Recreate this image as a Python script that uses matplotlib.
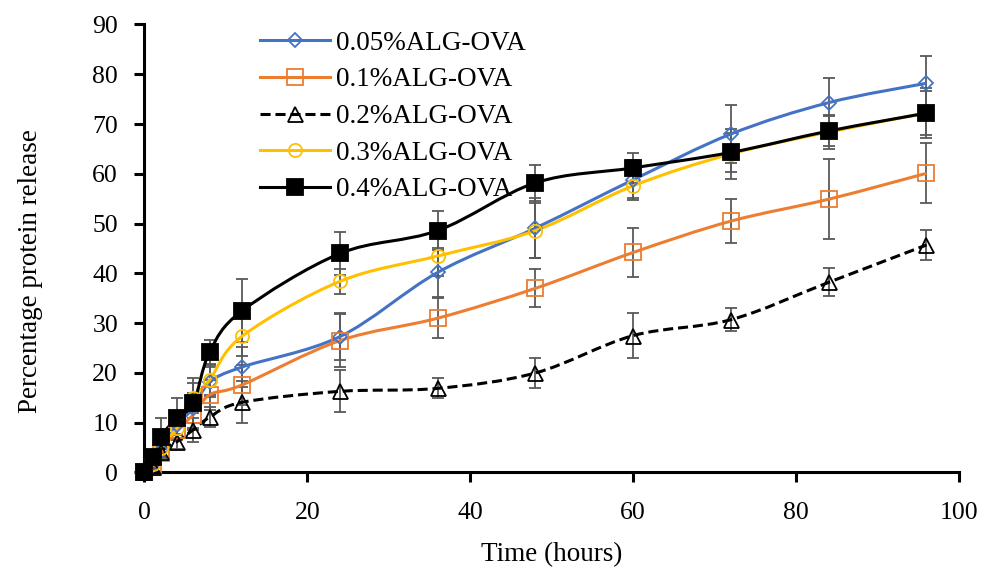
import numpy as np
import matplotlib
matplotlib.use("Agg")
import matplotlib.pyplot as plt
from matplotlib.path import Path
from matplotlib.patches import PathPatch
from matplotlib.lines import Line2D

# release time points (hours)
hours = [0, 1, 2, 4, 6, 8, 12, 24, 36, 48, 60, 72, 84, 96]

labels = ["0.05%ALG-OVA", "0.1%ALG-OVA", "0.2%ALG-OVA", "0.3%ALG-OVA", "0.4%ALG-OVA"]

alg005 = [0, 1.5, 4.5, 9.5, 13.0, 18.1, 21.2, 27.3, 40.2, 49.1, 58.8, 68.0, 74.3, 78.2]
alg01 = [0, 1.2, 4.0, 8.6, 11.6, 15.6, 17.6, 26.5, 31.0, 37.0, 44.2, 50.5, 54.9, 60.1]
alg02 = [0, 1.2, 4.2, 6.2, 8.6, 11.1, 14.1, 16.3, 16.9, 20.0, 27.5, 30.7, 38.2, 45.7]
alg03 = [0, 1.8, 5.0, 9.0, 15.0, 18.6, 27.4, 38.4, 43.5, 48.6, 57.6, 64.0, 68.4, 72.2]
alg04 = [0, 3.2, 7.2, 11.0, 13.9, 24.2, 32.5, 44.0, 48.6, 58.2, 61.2, 64.3, 68.6, 72.2]

sd005 = [0, 0.5, 1.0, 2.0, 3.0, 3.0, 4.0, 4.8, 4.9, 6.0, 4.0, 5.8, 4.9, 5.5]
sd01 = [0, 0.5, 1.0, 2.0, 3.0, 3.0, 4.0, 5.3, 4.0, 3.8, 5.0, 4.4, 8.0, 6.0]
sd02 = [0, 0.5, 1.0, 1.5, 2.4, 2.0, 4.2, 4.2, 2.0, 3.0, 4.5, 2.3, 2.8, 3.0]
sd03 = [0, 0.5, 1.0, 2.0, 3.0, 3.0, 4.0, 2.5, 4.0, 5.5, 2.5, 5.0, 3.5, 5.0]
sd04 = [0, 1.0, 3.8, 4.0, 5.0, 2.4, 6.3, 4.4, 4.0, 3.6, 3.0, 3.9, 3.0, 4.4]

series = [alg005, alg01, alg02, alg03, alg04]
errors = [sd005, sd01, sd02, sd03, sd04]
colors = ["#4472C4", "#ED7D31", "black", "#FFC000", "black"]
markers = ["D", "s", "^", "o", "s"]
msizes = [7.5, 11.5, 10.8, 9.5, 12]
faces = ["none", "none", "none", "none", "black"]
styles = ["-", "-", (0, (3.3, 1.6)), "-", "-"]

plt.rcParams["font.family"] = ["Liberation Serif", "DejaVu Serif"]
plt.rcParams["font.size"] = 19.5


def smooth_path(x, y):
    # cubic bezier through the points, catmull-rom style tangents
    x = np.asarray(x, float)
    y = np.asarray(y, float)
    pts = np.column_stack([x, y])
    n = len(pts)
    verts = [pts[0]]
    codes = [Path.MOVETO]
    for i in range(n - 1):
        p0 = pts[max(i - 1, 0)]
        p1 = pts[i]
        p2 = pts[i + 1]
        p3 = pts[min(i + 2, n - 1)]
        c1 = p1 + (p2 - p0) / 6.0
        c2 = p2 - (p3 - p1) / 6.0
        verts += [c1, c2, p2]
        codes += [Path.CURVE4] * 3
    return Path(verts, codes)


fig = plt.figure(figsize=(9.89, 5.75), dpi=100)
ax = fig.add_axes([0.1461, 0.1783, 0.8236, 0.7791])

handles = []
for vals, err, col, mk, ms, fc, ls, lab in zip(series, errors, colors, markers,
                                               msizes, faces, styles, labels):
    ax.errorbar(hours, vals, yerr=err, fmt="none", ecolor="#595959",
                elinewidth=1.3, capsize=4.5, capthick=1.3, zorder=2)
    patch = PathPatch(smooth_path(hours, vals), facecolor="none", edgecolor=col,
                      lw=2.2, linestyle=ls, zorder=3)
    ax.add_patch(patch)
    ax.plot(hours, vals, linestyle="none", marker=mk, ms=ms, mfc=fc, mec=col,
            mew=1.3, zorder=4, clip_on=False)
    handles.append(Line2D([], [], color=col, lw=2.2, linestyle=ls, marker=mk,
                          ms=ms, mfc=fc, mec=col, mew=1.3, label=lab))

ax.set_xlim(0, 100)
ax.set_ylim(0, 90)
ax.set_xticks(range(0, 101, 20))
ax.set_yticks(range(0, 91, 10))
ax.spines["top"].set_visible(False)
ax.spines["right"].set_visible(False)
for s in ["left", "bottom"]:
    ax.spines[s].set_linewidth(2.2)
ax.tick_params(direction="out", length=7, width=2.2, labelsize=18.5)
ax.tick_params(axis="y", pad=12)
ax.tick_params(axis="x", pad=14)

ax.set_xlabel("Time (hours)", labelpad=13)
ax.set_ylabel("Percentage protein release")
ax.yaxis.set_label_coords(-0.125, 0.45)

ax.legend(handles=handles, loc="upper left", bbox_to_anchor=(0.1418, 0.986),
          frameon=False, borderpad=0, borderaxespad=0, handlelength=2.6,
          handletextpad=0.22, labelspacing=0.43, numpoints=1)

fig.savefig("out.png", dpi=100)
